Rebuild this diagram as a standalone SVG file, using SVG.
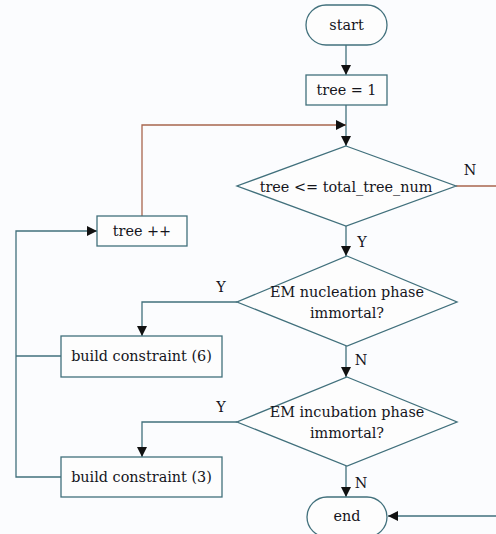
<svg xmlns="http://www.w3.org/2000/svg" width="496" height="534" viewBox="0 0 496 534">
<defs>
<style>
.shape{fill:#fdfdfd;stroke:#41707c;stroke-width:1.3}
.t{font-family:"DejaVu Serif",serif;font-size:14.4px;fill:#15151c;text-anchor:middle;dominant-baseline:central}
.v{stroke:#41707c;stroke-width:1.3;fill:none}
.h{stroke:#a8664e;stroke-width:1.3;fill:none}
</style>
<marker id="ar" viewBox="0 0 10 10" refX="10" refY="5" markerWidth="10" markerHeight="10" markerUnits="userSpaceOnUse" orient="auto">
<path d="M0,0 L10,5 L0,10 z" fill="#111"/>
</marker>
</defs>
<rect width="496" height="534" fill="#fbfcfe"/>
<g id="connectors">
<line class="v" x1="346" y1="45" x2="346" y2="75" marker-end="url(#ar)"/>
<line class="v" x1="346" y1="105" x2="346" y2="146" marker-end="url(#ar)"/>
<polyline class="h" points="142,216 142,125 346,125" marker-end="url(#ar)"/>
<line class="v" x1="346" y1="226" x2="346" y2="256" marker-end="url(#ar)"/>
<polyline class="h" points="456,186 496,186"/>
<polyline class="v" points="237,302 142,302 142,336" marker-end="url(#ar)"/>
<line class="v" x1="346" y1="346" x2="346" y2="377" marker-end="url(#ar)"/>
<polyline class="v" points="237,422 142,422 142,457" marker-end="url(#ar)"/>
<line class="v" x1="346" y1="466" x2="346" y2="497" marker-end="url(#ar)"/>
<polyline class="v" points="61,356 16,356"/>
<polyline class="v" points="61,477 16,477 16,231 97,231" marker-end="url(#ar)"/>
<line class="v" x1="496" y1="516" x2="388" y2="516" marker-end="url(#ar)"/>
<text class="t" x="470" y="170">N</text>
<text class="t" x="362" y="242">Y</text>
<text class="t" x="221" y="287">Y</text>
<text class="t" x="361" y="360">N</text>
<text class="t" x="221" y="407">Y</text>
<text class="t" x="361" y="483">N</text>
</g>
<g id="start"><rect class="shape" x="306" y="5" width="81" height="40" rx="20"/><text class="t" x="346.5" y="25">start</text></g>
<g id="init"><rect class="shape" x="306" y="75" width="81" height="30"/><text class="t" x="346.5" y="90">tree = 1</text></g>
<g id="cond1"><polygon class="shape" points="346,146 456,186 346,226 237,186"/><text class="t" x="346" y="187">tree &lt;= total_tree_num</text></g>
<g id="inc"><rect class="shape" x="97" y="216" width="90" height="30"/><text class="t" x="142" y="231">tree ++</text></g>
<g id="cond2"><polygon class="shape" points="347,256 457,302 347,346 237,302"/><text class="t" x="347" y="292">EM nucleation phase</text><text class="t" x="347" y="313">immortal?</text></g>
<g id="bc6"><rect class="shape" x="61" y="336" width="161" height="41"/><text class="t" x="141.5" y="356">build constraint (6)</text></g>
<g id="cond3"><polygon class="shape" points="347,377 457,422 347,466 237,422"/><text class="t" x="347" y="412">EM incubation phase</text><text class="t" x="347" y="433">immortal?</text></g>
<g id="bc3"><rect class="shape" x="61" y="457" width="161" height="40"/><text class="t" x="141.5" y="477">build constraint (3)</text></g>
<g id="end"><rect class="shape" x="307" y="497" width="80" height="40" rx="20"/><text class="t" x="347" y="516">end</text></g>
</svg>
